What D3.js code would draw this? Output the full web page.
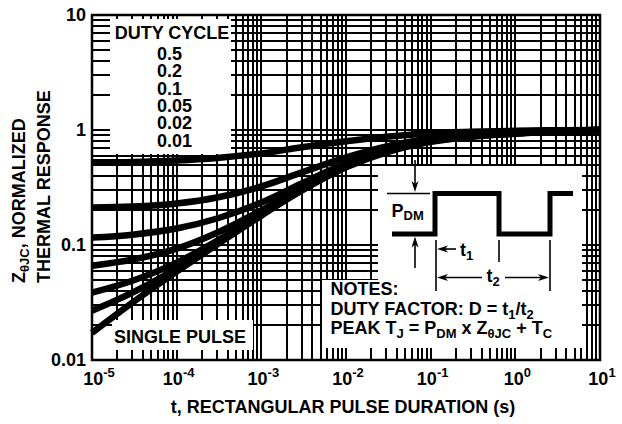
<!DOCTYPE html>
<html>
<head>
<meta charset="utf-8">
<script src="https://cdn.jsdelivr.net/npm/d3@7"></script>
<style>
  html, body { margin: 0; padding: 0; background: #fff; }
  svg { display: block; font-family: "Liberation Sans", Arial, Helvetica, sans-serif; font-weight: bold; }
</style>
</head>
<body>
<div id="chart"></div>
<script>
// ---- data ----
const pulseTimes = [1e-5, 3e-5, 1e-4, 3e-4, 1e-3, 3e-3, 1e-2, 3e-2, 1e-1, 3e-1, 1, 3, 10];
const duty05      = [0.523, 0.528, 0.544, 0.572, 0.626, 0.707, 0.797, 0.872, 0.936, 0.964, 0.984, 0.995, 1.0];
const duty02      = [0.212, 0.216, 0.230, 0.259, 0.323, 0.428, 0.578, 0.721, 0.846, 0.917, 0.955, 0.984, 1.0];
const duty01      = [0.116, 0.123, 0.139, 0.170, 0.234, 0.343, 0.513, 0.679, 0.813, 0.899, 0.945, 0.974, 1.0];
const duty005     = [0.0661, 0.0746, 0.0930, 0.128, 0.200, 0.317, 0.492, 0.665, 0.805, 0.890, 0.936, 0.974, 1.0];
const duty002     = [0.0385, 0.0489, 0.0703, 0.109, 0.188, 0.304, 0.483, 0.652, 0.797, 0.881, 0.936, 0.974, 1.0];
const duty001     = [0.0268, 0.0385, 0.0623, 0.103, 0.184, 0.298, 0.478, 0.645, 0.797, 0.881, 0.936, 0.974, 1.0];
const singlePulse = [0.0172, 0.0315, 0.0586, 0.101, 0.180, 0.298, 0.473, 0.639, 0.789, 0.872, 0.927, 0.974, 1.0];

const dutyLabels = ["0.5", "0.2", "0.1", "0.05", "0.02", "0.01"];
const xTickExponents = [-5, -4, -3, -2, -1, 0, 1];
const yTickValues = [10, 1, 0.1, 0.01];
const yTickLabels = ["10", "1", "0.1", "0.01"];

// ---- layout ----
const W = 622, H = 424;
const pLeft = 92, pRight = 600, pTop = 15, pBottom = 360;

const x = d3.scaleLog().domain([1e-5, 10]).range([pLeft, pRight]);
const y = d3.scaleLog().domain([0.01, 10]).range([pBottom, pTop]);

const svg = d3.select("#chart").append("svg")
  .attr("width", W).attr("height", H)
  .attr("viewBox", `0 0 ${W} ${H}`);

// grid (every 1..9 of each decade)
const grid = svg.append("g").attr("stroke", "#000").attr("stroke-width", 2)
  .attr("shape-rendering", "crispEdges");
grid.selectAll("line.v").data(x.ticks()).join("line")
  .attr("class", "v")
  .attr("x1", d => x(d)).attr("x2", d => x(d))
  .attr("y1", pTop).attr("y2", pBottom);
grid.selectAll("line.h").data(y.ticks()).join("line")
  .attr("class", "h")
  .attr("x1", pLeft).attr("x2", pRight)
  .attr("y1", d => y(d)).attr("y2", d => y(d));

// frame
svg.append("rect")
  .attr("x", pLeft).attr("y", pTop)
  .attr("width", pRight - pLeft).attr("height", pBottom - pTop)
  .attr("fill", "none").attr("stroke", "#000").attr("stroke-width", 2.5);

// white label boxes over the grid
const boxes = [
  [110, 19, 231, 154],   // duty cycle
  [112, 320, 253, 350],  // single pulse
  [378, 166, 582, 281],  // waveform
  [322, 280, 582, 348]   // notes
];
svg.append("g").selectAll("rect").data(boxes).join("rect")
  .attr("x", d => d[0]).attr("y", d => d[1])
  .attr("width", d => d[2] - d[0]).attr("height", d => d[3] - d[1])
  .attr("fill", "#fff");

// curves
const series = [duty05, duty02, duty01, duty005, duty002, duty001, singlePulse];
const line = d3.line()
  .x((d, i) => x(pulseTimes[i]))
  .y(d => y(d))
  .curve(d3.curveMonotoneX);

svg.append("g")
  .attr("fill", "none").attr("stroke", "#000")
  .attr("stroke-width", 6.5)
  .selectAll("path").data(series).join("path")
  .attr("d", line);

// helper: text with sub/superscripts. parts = [[str, shift]] shift: 0 normal, 1 sub, -1 sup
function rich(sel, parts, big, small) {
  let cur = 0;
  parts.forEach(([s, k]) => {
    const off = k === 1 ? small * 0.3 : (k === -1 ? -big * 0.42 : 0);
    sel.append("tspan")
      .attr("dy", off - cur)
      .attr("font-size", k ? small : big)
      .text(s);
    cur = off;
  });
}

// y tick labels
svg.append("g").selectAll("text").data(yTickValues).join("text")
  .attr("x", 86).attr("y", d => y(d)).attr("dy", "0.36em")
  .attr("text-anchor", "end").attr("font-size", 18)
  .text((d, i) => yTickLabels[i]);

// x tick labels
svg.append("g").selectAll("text").data(xTickExponents).join("text")
  .attr("x", (d, i) => x(Math.pow(10, d)) + (i === 0 ? 7 : 2))
  .attr("y", 385).attr("text-anchor", "middle")
  .each(function (d) { rich(d3.select(this), [["10", 0], [String(d), -1]], 18, 13); });

// axis titles
svg.append("text")
  .attr("x", 343).attr("y", 413).attr("text-anchor", "middle").attr("font-size", 18)
  .text("t, RECTANGULAR PULSE DURATION (s)");

const yt = svg.append("g").attr("transform", "translate(25,283) rotate(-90)");
rich(yt.append("text").attr("x", 0).attr("y", 0),
  [["Z", 0], ["θJC", 1], [", NORMALIZED", 0]], 18, 13);
yt.append("text").attr("x", 0).attr("y", 25).attr("font-size", 18)
  .text("THERMAL RESPONSE");

// duty cycle legend
svg.append("text").attr("x", 172).attr("y", 39).attr("text-anchor", "middle")
  .attr("font-size", 18).text("DUTY CYCLE");
svg.append("g").selectAll("text").data(dutyLabels).join("text")
  .attr("x", 157).attr("y", (d, i) => 60 + i * 17.3)
  .attr("font-size", 18).text(d => d);

svg.append("text").attr("x", 180).attr("y", 343).attr("text-anchor", "middle")
  .attr("font-size", 18).text("SINGLE PULSE");

// waveform sketch
svg.append("path")
  .attr("d", "M392,234H435V193.5H499V234H550V193.5H573")
  .attr("fill", "none").attr("stroke", "#000").attr("stroke-width", 5);

const thin = svg.append("g").attr("stroke", "#000").attr("stroke-width", 1.6).attr("fill", "none");
[[387, 193.5, 430, 193.5], [415, 160, 415, 186], [415, 268, 415, 242],
 [436, 240, 436, 291], [499, 240, 499, 262], [550, 240, 550, 291],
 [456, 249, 442, 249], [482, 277.5, 442, 277.5], [505, 277.5, 544, 277.5]]
  .forEach(l => thin.append("line").attr("x1", l[0]).attr("y1", l[1]).attr("x2", l[2]).attr("y2", l[3]));

function head(px, py, ang) {
  svg.append("path")
    .attr("d", "M0,0L-11,-3.5L-8,0L-11,3.5Z")
    .attr("transform", `translate(${px},${py}) rotate(${ang})`)
    .attr("fill", "#000");
}
head(415, 192, 90);
head(415, 236.5, -90);
head(437, 249, 180);
head(437, 277.5, 180);
head(549, 277.5, 0);

rich(svg.append("text").attr("x", 391.5).attr("y", 216.5), [["P", 0], ["DM", 1]], 18, 13);
rich(svg.append("text").attr("x", 460).attr("y", 256), [["t", 0], ["1", 1]], 18, 13);
rich(svg.append("text").attr("x", 493).attr("y", 282).attr("text-anchor", "middle"), [["t", 0], ["2", 1]], 18, 13);

// notes
svg.append("text").attr("x", 330.5).attr("y", 295).attr("font-size", 18).text("NOTES:");
rich(svg.append("text").attr("x", 330.5).attr("y", 315),
  [["DUTY FACTOR: D = t", 0], ["1", 1], ["/t", 0], ["2", 1]], 18, 13);
rich(svg.append("text").attr("x", 330.5).attr("y", 334),
  [["PEAK T", 0], ["J", 1], [" = P", 0], ["DM", 1], [" x Z", 0], ["θJC", 1], [" + T", 0], ["C", 1]], 18, 13);
</script>
</body>
</html>
